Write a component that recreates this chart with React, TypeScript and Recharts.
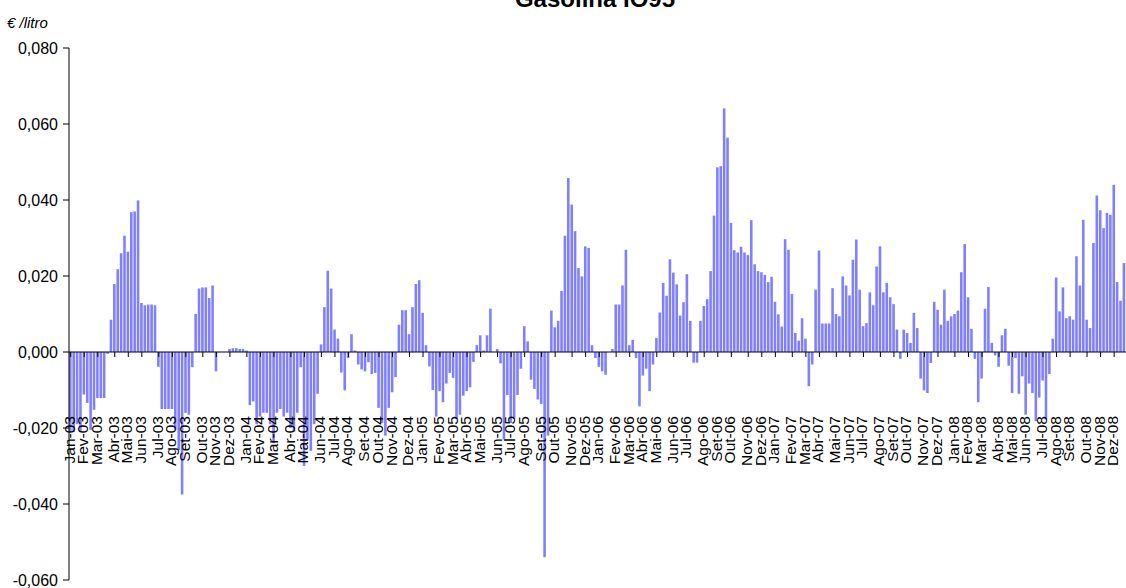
import { BarChart, Bar, XAxis, YAxis, ReferenceLine } from 'recharts';

// variação semanal do preço (€/litro), uma lista por ano
const v2003 = [
  -0.021, -0.021, -0.019, -0.021, -0.0112, -0.0134, -0.0205, -0.0152, -0.0121, -0.0121, -0.0121, -0.0005,
  0.0085, 0.0179, 0.0218, 0.026, 0.0306, 0.0264, 0.0368, 0.037, 0.0399, 0.0129, 0.0123, 0.0125, 0.0125, 0.0123,
  -0.0039, -0.015, -0.015, -0.015, -0.015, -0.0204, -0.0258, -0.0375, -0.016, -0.0165, -0.004,
  0.01, 0.0167, 0.017, 0.017, 0.0142, 0.0175, -0.0051, 0, 0, 0, 0.0008, 0.001, 0.001, 0.0008, 0.0008,
];
const v2004 = [
  0.0004, -0.014, -0.013, -0.019, -0.017, -0.016, -0.016, -0.019, -0.024, -0.016, -0.015, -0.017, -0.016,
  -0.02, -0.021, -0.016, -0.004, -0.03, -0.023, -0.026, -0.019, -0.011, 0.002, 0.0118, 0.0214, 0.0167,
  0.0059, 0.0035, -0.0054, -0.0101, -0.0016, 0.0047, 0.0004, -0.0033, -0.0046, -0.0051, -0.0027, -0.0058,
  -0.0055, -0.0147, -0.0187, -0.022, -0.0147, -0.0106, -0.0066, 0.0072, 0.011, 0.011, 0.0047, 0.0118,
  0.0179, 0.0189,
];
const v2005 = [
  0.0103, 0.0018, -0.0038, -0.01, -0.017, -0.0103, -0.0132, -0.0083, -0.0055, -0.0068, -0.0175, -0.0165,
  -0.0115, -0.0103, -0.0093, -0.0026, 0.0018, 0.0044, 0.0004, 0.0044, 0.0114, 0, 0.0008, -0.003, -0.023,
  -0.0113, -0.0187, -0.0175, -0.0113, -0.0044, 0.0068, 0.0028, -0.0073, -0.0097, -0.0125, -0.0137, -0.054,
  -0.022, 0.0109, 0.0065, 0.0082, 0.0161, 0.0306, 0.0458, 0.0388, 0.0318, 0.0221, 0.0199, 0.0278, 0.0274,
  0.0018, -0.0016,
];
const v2006 = [
  -0.0039, -0.0051, -0.006, 0, 0.0008, 0.0125, 0.0125, 0.0175, 0.0269, 0.0018, 0.0032, -0.0016, -0.0143,
  -0.0062, -0.0044, -0.0103, -0.0033, 0.0037, 0.0104, 0.0182, 0.0148, 0.0244, 0.0209, 0.0178, 0.0096,
  0.0131, 0.0205, 0.0082, -0.0028, -0.0028, 0.0082, 0.0121, 0.0139, 0.0213, 0.0359, 0.0486, 0.0489, 0.0641,
  0.0564, 0.034, 0.0268, 0.0262, 0.0277, 0.0262, 0.0255, 0.0347, 0.0231, 0.0213, 0.021, 0.0203, 0.0184,
  0.0198,
];
const v2007 = [
  0.0132, 0.0099, 0.0067, 0.0297, 0.0269, 0.0153, 0.005, 0.003, 0.0089, 0.0035, -0.009, -0.0033, 0.0164,
  0.0267, 0.0075, 0.0075, 0.0075, 0.0168, 0.01, 0.0094, 0.0199, 0.0175, 0.0149, 0.0243, 0.0296, 0.0164,
  0.0068, 0.0076, 0.0157, 0.0123, 0.0225, 0.0278, 0.0157, 0.0182, 0.0144, 0.0126, 0.0059, -0.0018, 0.0059,
  0.005, 0.0024, 0.0103, 0.0063, -0.007, -0.0101, -0.0108, -0.0029, 0.0132, 0.0111, 0.0072, 0.0164, 0.0082,
  0.0094,
];
const v2008 = [
  0.01, 0.0109, 0.021, 0.0284, 0.0144, 0.0061, -0.0018, -0.0132, -0.007, 0.0114, 0.0171, 0.0024, -0.0009,
  -0.0039, 0.0044, 0.0061, -0.0036, -0.0108, -0.0016, -0.011, -0.0064, -0.0165, -0.0083, -0.0108, -0.0182,
  -0.012, -0.0075, -0.0178, -0.0058, 0.0035, 0.0196, 0.0107, 0.017, 0.0089, 0.0094, 0.0085, 0.0252, 0.0175,
  0.0348, 0.0085, 0.0063, 0.0287, 0.0412, 0.0373, 0.0326, 0.0366, 0.0361, 0.044, 0.0184, 0.0135, 0.0234,
];

const MESES = ['Jan', 'Fev', 'Mar', 'Abr', 'Mai', 'Jun', 'Jul', 'Ago', 'Set', 'Out', 'Nov', 'Dez'];
const Y_TICKS = [-0.06, -0.04, -0.02, 0, 0.02, 0.04, 0.06, 0.08];
const INICIO = Date.UTC(2003, 0, 6); // primeira segunda-feira

const valores = [...v2003, ...v2004, ...v2005, ...v2006, ...v2007, ...v2008];
const dados = valores.map((v, i) => {
  const d = new Date(INICIO + i * 7 * 86400000);
  return { semana: d.toISOString().slice(0, 10), mes: d.getUTCMonth(), ano: d.getUTCFullYear(), variacao: v };
});
const rotulos = new Map<string, string>();
dados.forEach((d, i) => {
  if (i === 0 || d.mes !== dados[i - 1].mes) {
    rotulos.set(d.semana, `${MESES[d.mes]}-${String(d.ano).slice(2)}`);
  }
});

const W = 1126;
const H = 588;
const TOP = 48;
const BOTTOM = 7;
const X_AXIS_H = 1;
const PLOT_H = H - TOP - BOTTOM - X_AXIS_H;
const Y_MIN = -0.06;
const Y_MAX = 0.08;
const ZERO_Y = TOP + (PLOT_H * Y_MAX) / (Y_MAX - Y_MIN);
const FONT = '"Liberation Sans", Arial, sans-serif';

const fmt = (v: number) => v.toFixed(3).replace('.', ',');

function MesTick(props: any) {
  const { x, payload } = props;
  const label = rotulos.get(payload.value);
  if (!label) return <g />;
  const tx = x + 4;
  const ty = ZERO_Y + 64;
  return (
    <g>
      <line x1={x} x2={x} y1={ZERO_Y} y2={ZERO_Y + 5} stroke="#000" />
      <text
        x={tx}
        y={ty}
        transform={`rotate(-90, ${tx}, ${ty})`}
        textAnchor="end"
        fontSize={15.5}
        fontFamily={FONT}
        fill="#000"
      >
        {label}
      </text>
    </g>
  );
}

export default function App() {
  return (
    <div style={{ position: 'absolute', left: 0, top: 0, width: W, height: H, background: '#fff', fontFamily: FONT }}>
      <BarChart
        width={W}
        height={H}
        data={dados}
        margin={{ top: TOP, right: 0, bottom: BOTTOM, left: 0 }}
        barSize={2.6}
      >
        <XAxis
          dataKey="semana"
          height={X_AXIS_H}
          interval={0}
          axisLine={false}
          tickLine={false}
          tick={<MesTick />}
        />
        <YAxis
          width={69}
          domain={[Y_MIN, Y_MAX]}
          ticks={Y_TICKS}
          interval={0}
          allowDataOverflow
          tickFormatter={fmt}
          tickSize={6}
          tickMargin={5}
          axisLine={{ stroke: '#000' }}
          tickLine={{ stroke: '#000' }}
          tick={{ fill: '#000', fontSize: 16, fontFamily: FONT }}
        />
        <Bar dataKey="variacao" fill="#8080ff" isAnimationActive={false} />
        <ReferenceLine y={0} stroke="#000" strokeWidth={1} />
      </BarChart>
      <svg width={W} height={H} style={{ position: 'absolute', left: 0, top: 0, pointerEvents: 'none' }}>
        <text x={595} y={7} textAnchor="middle" fontSize={24} fontWeight="bold" fontFamily={FONT} fill="#000">
          Gasolina IO95
        </text>
        <text x={7} y={28} fontSize={15} fontStyle="italic" fontFamily={FONT} fill="#000">
          € /litro
        </text>
      </svg>
    </div>
  );
}
